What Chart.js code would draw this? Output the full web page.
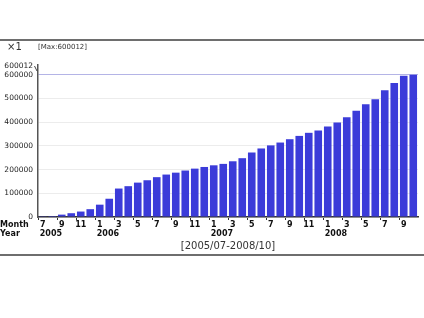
<!DOCTYPE html>
<html>
<head>
<meta charset="utf-8">
<script src="https://cdn.jsdelivr.net/npm/chart.js@4.4.0/dist/chart.umd.min.js"></script>
<style>
  html, body { margin: 0; padding: 0; background: #fff; }
  #wrap { width: 424px; height: 318px; position: relative; }
</style>
</head>
<body>
<div id="wrap"><canvas id="c" width="424" height="318"></canvas></div>
<script>
const monthTicks = ["7","","9","","11","","1","","3","","5","","7","","9","","11","","1","","3","","5","","7","","9","","11","","1","","3","","5","","7","","9",""];
const yearTicks = ["2005","","","","","","2006","","","","","","","","","","","","2007","","","","","","","","","","","","2008","","","","","","","","",""];
const totals = [1000, 4000, 10000, 16000, 23000, 33000, 52000, 77000, 120000, 130000,
                145000, 155000, 168000, 179000, 187000, 196000, 204000, 211000, 218000, 224000,
                235000, 248000, 272000, 289000, 302000, 314000, 328000, 342000, 355000, 365000,
                382000, 399000, 421000, 448000, 475000, 497000, 535000, 565000, 596000, 600012];
const yTicks = [0, 100000, 200000, 300000, 400000, 500000, 600000];
const maxLabel = "600012";
const rangeLabel = "[2005/07-2008/10]";

const FONT = "DejaVu Sans";

const extras = {
    id: "extras",
    afterDraw(c) {
        const ctx = c.ctx;
        const area = c.chartArea;
        const x = c.scales.x;
        ctx.save();

        // frame lines
        ctx.fillStyle = "#6e6e6e";
        ctx.fillRect(0, 39, 424, 2);
        ctx.fillRect(0, 254, 424, 2);

        // top texts
        ctx.fillStyle = "#333";
        ctx.textBaseline = "middle";
        ctx.textAlign = "left";
        ctx.font = "10px " + FONT;
        ctx.fillText("\u00d71", 7, 47);
        ctx.font = "7px " + FONT;
        ctx.fillText("[Max:" + maxLabel + "]", 38, 47);

        // max label with break mark
        ctx.font = "7.5px " + FONT;
        ctx.textAlign = "right";
        ctx.fillStyle = "#222";
        ctx.fillText(maxLabel, 33, area.top + 1.5);
        ctx.strokeStyle = "#444";
        ctx.lineWidth = 1;
        ctx.beginPath();
        ctx.moveTo(34.5, area.top + 1);
        ctx.lineTo(37, area.top + 6);
        ctx.stroke();

        // Month / Year captions
        ctx.font = "bold 8px " + FONT;
        ctx.textAlign = "left";
        ctx.fillStyle = "#111";
        ctx.fillText("Month", 0, area.bottom + 8);
        ctx.fillText("Year", 0, area.bottom + 17);

        // year labels
        yearTicks.forEach((y, i) => {
            if (y) ctx.fillText(y, x.getPixelForValue(i) - 3, area.bottom + 17);
        });

        // range text
        ctx.font = "10px " + FONT;
        ctx.textAlign = "center";
        ctx.fillStyle = "#333";
        ctx.fillText(rangeLabel, (area.left + area.right) / 2, area.bottom + 29);
        ctx.restore();
    }
};

new Chart(document.getElementById("c"), {
    type: "bar",
    data: {
        labels: monthTicks,
        datasets: [{
            data: totals,
            backgroundColor: "#3b3bd9",
            borderWidth: 0,
            barPercentage: 0.8,
            categoryPercentage: 1.0
        }]
    },
    options: {
        responsive: false,
        animation: false,
        layout: { padding: { top: 65, right: 6, left: 0, bottom: 0 } },
        plugins: {
            legend: { display: false },
            tooltip: { enabled: false }
        },
        scales: {
            x: {
                offset: true,
                afterFit(s) { s.height = 101; },
                grid: {
                    drawOnChartArea: false,
                    tickLength: 3,
                    color: (ctx) => (ctx.tick && monthTicks[ctx.index] ? "#333" : "rgba(0,0,0,0)")
                },
                border: { color: "#333", width: 1.5 },
                ticks: {
                    autoSkip: false,
                    maxRotation: 0,
                    padding: 0,
                    color: "#111",
                    font: { family: FONT, size: 8, weight: "bold" },
                    callback: (v, i) => monthTicks[i]
                }
            },
            y: {
                min: 0,
                max: 641000,
                afterFit(s) { s.width = 38; },
                afterBuildTicks(s) { s.ticks = yTicks.map(v => ({ value: v })); },
                grid: {
                    drawTicks: false,
                    color: (ctx) => (ctx.tick && ctx.tick.value === 600000 ? "#b4b4e6" : "#ececec")
                },
                border: { color: "#555", width: 1.5 },
                ticks: {
                    padding: 5,
                    color: "#222",
                    font: { family: FONT, size: 7.5 },
                    callback: (v) => String(v)
                }
            }
        }
    },
    plugins: [extras]
});
</script>
</body>
</html>
